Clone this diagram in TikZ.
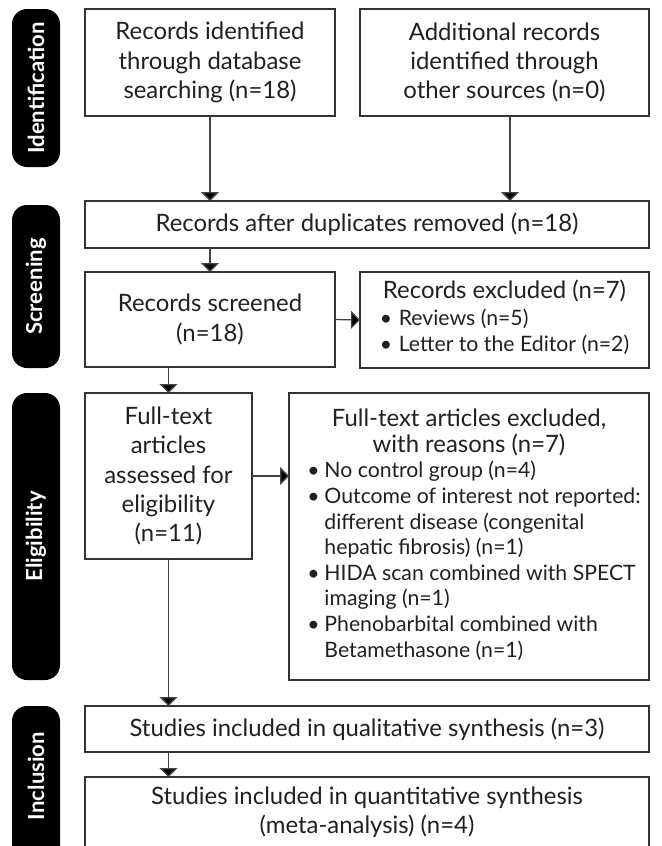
\documentclass[tikz,border=0pt]{standalone}
\usepackage{fontspec}
\setmainfont{Lato}
\usetikzlibrary{arrows.meta,calc}
\definecolor{boxgray}{HTML}{333333}
\definecolor{linegray}{HTML}{444444}
\definecolor{txt}{HTML}{231F20}
\newcommand\mainsz{\fontsize{24}{29.5}\selectfont}
\newcommand\hdsz{\fontsize{24}{26}\selectfont}
\newcommand\listsz{\fontsize{21.3}{25.7}\selectfont}
\newcommand\listszb{\fontsize{21.3}{26.5}\selectfont}
\newcommand\sidesz{\fontsize{22.2}{24}\selectfont}
\newcommand\blt{\makebox[19bp][l]{\textbullet}}
\newcommand\bltb{\makebox[17bp][l]{\textbullet}}
\newcommand\ind{\hspace*{17bp}}
\newcommand\hd[1]{\multicolumn{1}{@{}c@{}}{\hdsz #1}}
\begin{document}
\begin{tikzpicture}[x=1bp,y=-1bp,
  box/.style={draw=boxgray, line width=1.3bp, inner sep=0pt, outer sep=0pt,
    anchor=north west, align=center, font=\mainsz, text=txt},
  arr/.style={draw=linegray, line width=1.3bp, -{Triangle[width=18bp,length=9bp,fill=black]}},
  side/.style={fill=black, rounded corners=15bp},
  sidetext/.style={text=white, font=\sidesz\bfseries, rotate=90, inner sep=0pt},
]
\useasboundingbox (0,0) rectangle (662,846);
\clip (0,0) rectangle (662,846);

% side labels
\fill[side] (12,9) rectangle (60,167);
\node[sidetext] (lid) at (36,88) {Identification};
\fill[side] (12,205) rectangle (60,368);
\node[sidetext] (lsc) at (36,286.5) {Screening};
\fill[side] (12,393) rectangle (60,680);
\node[sidetext] (lel) at (36,536.5) {Eligibility};
\fill[side] (12,706) rectangle (60,890);
\node[sidetext] (lin) at (36,776) {Inclusion};

% boxes
\node[box, minimum width=250bp, minimum height=107bp] (b1) at (85,9)
  {Records identified\\through database\\searching (n=18)};
\node[box, minimum width=289bp, minimum height=107bp] (b2) at (360,9)
  {Additional records\\identified through\\other sources (n=0)};
\node[box, minimum width=564bp, minimum height=47bp] (b3) at (85,201)
  {Records after duplicates removed (n=18)};
\node[box, minimum width=250bp, minimum height=95bp] (b4) at (85,272)
  {Records screened\\(n=18)};
\node[box, minimum width=289bp, minimum height=96bp, font=\listszb] (b5) at (360,272)
  {\begin{tabular}{@{}l@{}}
   \hd{Records excluded (n=7)}\\
   \blt Reviews (n=5)\\
   \blt Letter to the Editor (n=2)
   \end{tabular}};
\node[box, minimum width=167bp, minimum height=166bp] (b6) at (85,393)
  {Full-text\\articles\\assessed for\\eligibility\\(n=11)};
\node[box, minimum width=360bp, minimum height=287bp, font=\listsz] (b7) at (289,393)
  {\begin{tabular}{@{\hspace{10bp}}l@{}}
   \hd{Full-text articles excluded,}\\
   \hd{with reasons (n=7)}\\
   \bltb No control group (n=4)\\
   \bltb Outcome of interest not reported:\\
   \ind different disease (congenital\\
   \ind hepatic fibrosis) (n=1)\\
   \bltb HIDA scan combined with SPECT\\
   \ind imaging (n=1)\\
   \bltb Phenobarbital combined with\\
   \ind Betamethasone (n=1)
   \end{tabular}};
\node[box, minimum width=564bp, minimum height=46bp] (b8) at (85,706)
  {Studies included in qualitative synthesis (n=3)};
\node[box, minimum width=564bp, minimum height=71bp] (b9) at (85,777)
  {Studies included in quantitative synthesis\\(meta-analysis) (n=4)};

% arrows
\draw[arr] (b1.south) -- (b1.south |- b3.north);
\draw[arr] ([xshift=5.5bp]b2.south) -- ([xshift=5.5bp]b2.south |- b3.north);
\draw[arr] (b4.north |- b3.south) -- (b4.north);
\draw[arr] (b4.east) -- (b5.west);
\draw[arr] (b6.north |- b4.south) -- (b6.north);
\draw[arr] (b6.east) -- (b6.east -| b7.west);
\draw[arr] (b6.south) -- (b6.south |- b8.north);
\draw[arr] (b6.south |- b8.south) -- (b6.south |- b9.north);
\end{tikzpicture}
\end{document}
